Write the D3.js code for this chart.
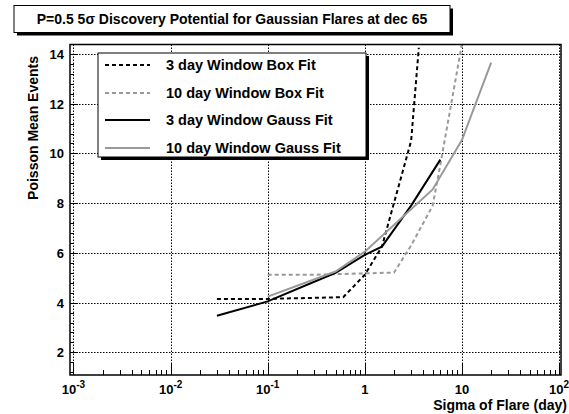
<!DOCTYPE html>
<html><head><meta charset="utf-8">
<script src="https://cdn.jsdelivr.net/npm/d3@7"></script>
<style>
body{margin:0;background:#fff}
text{font-family:"Liberation Sans",Arial,Helvetica,sans-serif;font-weight:bold;fill:#000}
</style>
</head><body><svg id="c" width="569" height="414"></svg>
<script>
// ---- data ----
const title = "P=0.5 5\u03c3 Discovery Potential for Gaussian Flares at dec 65";
const xTitle = "Sigma of Flare (day)";
const yTitle = "Poisson Mean Events";
const xTickExponents = [-3, -2, -1, 0, 1, 2];
const yTicks = [2, 4, 6, 8, 10, 12, 14];
const seriesNames = ["3 day Window Box Fit", "10 day Window Box Fit", "3 day Window Gauss Fit", "10 day Window Gauss Fit"];

const box3Sigma   = [0.03, 0.1, 0.6, 1, 1.5, 3, 3.6];
const box3Mean    = [4.15, 4.15, 4.22, 5.12, 6.25, 10.5, 14.25];
const box10Sigma  = [0.1, 0.3, 2, 3, 5, 6, 10];
const box10Mean   = [5.12, 5.12, 5.21, 6.3, 7.9, 9.55, 14.4];
const gauss3Sigma = [0.03, 0.1, 0.5, 1, 1.5, 3, 6];
const gauss3Mean  = [3.47, 4.05, 5.2, 5.92, 6.25, 7.9, 9.75];
const gauss10Sigma= [0.1, 0.5, 1, 5, 10, 20];
const gauss10Mean = [4.24, 5.25, 6.05, 8.55, 10.54, 13.65];

// ---- layout ----
const L = 70, R = 561, T = 44.5, B = 375;
const svg = d3.select("#c");
const x = d3.scaleLog().domain([Math.pow(10, -3.036), Math.pow(10, 2.0206)]).range([L, R]);
const y = d3.scaleLinear().domain([1.09, 14.38]).range([B, T]);

const series = [
  {name: seriesNames[0], sx: box3Sigma,   sy: box3Mean,   color: "#000", dash: "4,3"},
  {name: seriesNames[1], sx: box10Sigma,  sy: box10Mean,  color: "#999", dash: "4,3"},
  {name: seriesNames[2], sx: gauss3Sigma, sy: gauss3Mean, color: "#000", dash: null},
  {name: seriesNames[3], sx: gauss10Sigma,sy: gauss10Mean,color: "#999", dash: null}
];

// title box
const tb = {x0: 14, y0: 5.5, x1: 450, y1: 32.5};
svg.append("rect").attr("x", tb.x0 + 3).attr("y", tb.y0 + 3).attr("width", tb.x1 - tb.x0).attr("height", tb.y1 - tb.y0).attr("fill", "#000");
svg.append("rect").attr("x", tb.x0).attr("y", tb.y0).attr("width", tb.x1 - tb.x0).attr("height", tb.y1 - tb.y0).attr("fill", "#fff").attr("stroke", "#000").attr("stroke-width", 1);
svg.append("text").attr("x", (tb.x0 + tb.x1) / 2).attr("y", 24).attr("text-anchor", "middle").style("font-size", "14px").text(title);

// frame
svg.append("rect").attr("x", L).attr("y", T).attr("width", R - L).attr("height", B - T).attr("fill", "#fff");

// grid
const decades = xTickExponents.map(e => Math.pow(10, e));
const grid = svg.append("g").attr("stroke", "#000").attr("stroke-width", 1).attr("stroke-dasharray", "1.5,1.5");
grid.selectAll("line.gx").data(decades).join("line")
  .attr("x1", d => Math.round(x(d)) + 0.5).attr("x2", d => Math.round(x(d)) + 0.5).attr("y1", T).attr("y2", B);
grid.selectAll("line.gy").data(yTicks).join("line")
  .attr("y1", d => Math.round(y(d)) + 0.5).attr("y2", d => Math.round(y(d)) + 0.5).attr("x1", L).attr("x2", R);

// curves
svg.append("clipPath").attr("id", "clip").append("rect").attr("x", L).attr("y", T).attr("width", R - L).attr("height", B - T);
const line = d3.line().x(d => x(d[0])).y(d => y(d[1]));
const cg = svg.append("g").attr("clip-path", "url(#clip)");
series.forEach(s => {
  const pts = s.sx.map((v, i) => [v, s.sy[i]]);
  cg.append("path").attr("d", line(pts)).attr("fill", "none").attr("stroke", s.color)
    .attr("stroke-width", 2).attr("stroke-dasharray", s.dash);
});

// axes ticks
const ax = svg.append("g").attr("stroke", "#000");
const minorX = [];
for (let e = -3; e < 2; e++) for (let k = 2; k <= 9; k++) minorX.push(k * Math.pow(10, e));
ax.selectAll("line.mx").data(minorX).join("line").attr("stroke-width", 1)
  .attr("x1", d => Math.round(x(d)) + 0.5).attr("x2", d => Math.round(x(d)) + 0.5).attr("y1", B).attr("y2", B - 5);
ax.selectAll("line.Mx").data(decades).join("line").attr("stroke-width", 1)
  .attr("x1", d => Math.round(x(d)) + 0.5).attr("x2", d => Math.round(x(d)) + 0.5).attr("y1", B).attr("y2", B - 11);
const minorY = d3.range(1.2, 14.38, 0.4).filter(v => Math.abs(v / 2 - Math.round(v / 2)) > 0.01);
ax.selectAll("line.my").data(minorY).join("line").attr("stroke-width", 1)
  .attr("y1", d => Math.round(y(d)) + 0.5).attr("y2", d => Math.round(y(d)) + 0.5).attr("x1", L).attr("x2", L + 4);
ax.selectAll("line.My").data(yTicks).join("line").attr("stroke-width", 1)
  .attr("y1", d => Math.round(y(d)) + 0.5).attr("y2", d => Math.round(y(d)) + 0.5).attr("x1", L).attr("x2", L + 8);

// frame border
svg.append("rect").attr("x", L).attr("y", T).attr("width", R - L).attr("height", B - T)
  .attr("fill", "none").attr("stroke", "#000").attr("stroke-width", 1.5);

// tick labels
svg.selectAll("text.yl").data(yTicks).join("text").attr("x", L - 6).attr("y", d => y(d) + 5)
  .attr("text-anchor", "end").style("font-size", "13px").text(d => d);
const xl = svg.selectAll("text.xl").data(xTickExponents).join("text")
  .attr("x", e => x(Math.pow(10, e))).attr("y", 393.5).attr("text-anchor", "middle").style("font-size", "13px");
xl.each(function(e) {
  const t = d3.select(this);
  if (e === 0) t.text("1");
  else if (e === 1) t.text("10");
  else {
    t.append("tspan").text("10");
    t.append("tspan").attr("dy", -6).style("font-size", "10px").text(e);
  }
});

// axis titles
svg.append("text").attr("x", 567).attr("y", 410).attr("text-anchor", "end").style("font-size", "14px").text(xTitle);
svg.append("text").attr("transform", "translate(38,56) rotate(-90)").attr("text-anchor", "end").style("font-size", "14px").text(yTitle);

// legend
const lb = {x0: 98, y0: 53, x1: 366, y1: 157};
svg.append("rect").attr("x", lb.x0 + 3).attr("y", lb.y0 + 3).attr("width", lb.x1 - lb.x0).attr("height", lb.y1 - lb.y0).attr("fill", "#000");
svg.append("rect").attr("x", lb.x0).attr("y", lb.y0).attr("width", lb.x1 - lb.x0).attr("height", lb.y1 - lb.y0).attr("fill", "#fff").attr("stroke", "#000").attr("stroke-width", 1);
const rowY = [65, 93, 120, 148];
series.forEach((s, i) => {
  svg.append("line").attr("x1", 105).attr("x2", 150).attr("y1", rowY[i]).attr("y2", rowY[i])
    .attr("stroke", s.color).attr("stroke-width", 2).attr("stroke-dasharray", s.dash);
  svg.append("text").attr("x", 166).attr("y", rowY[i] + 5).style("font-size", "14.5px").text(s.name);
});
</script></body></html>
